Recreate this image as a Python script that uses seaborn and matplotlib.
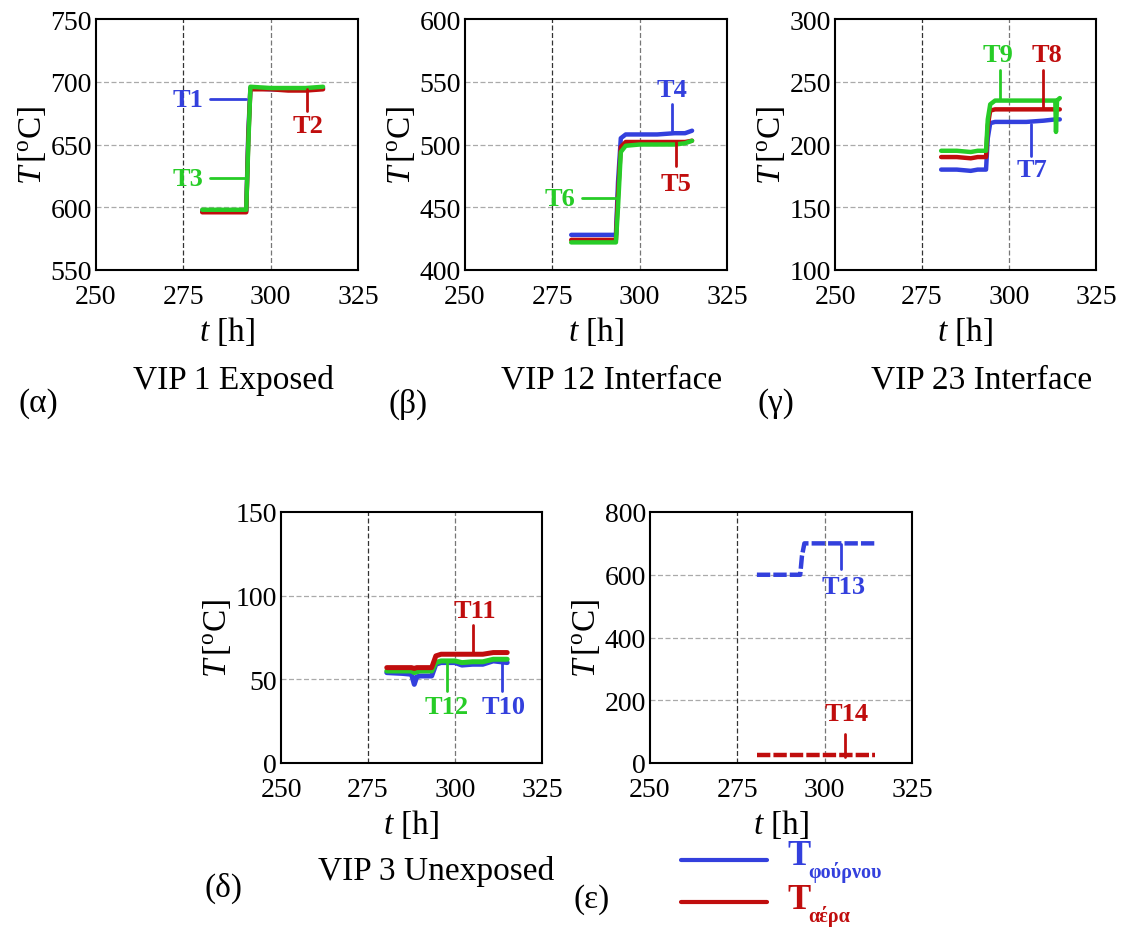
import numpy as np
import pandas as pd
import matplotlib
matplotlib.use("Agg")
import matplotlib.pyplot as plt
from matplotlib.ticker import MultipleLocator
import seaborn as sns

# ---------------- data ----------------
# (α) VIP 1 Exposed
t_a = [280.4, 285, 290, 293.0, 293.6, 294.2, 300, 305, 310, 315]
T1 = [597, 597, 597, 597, 660, 695, 694, 694, 694, 695]
T2 = [596, 596, 596, 596, 655, 694, 694, 693, 693, 694]
T3 = [598, 598, 598, 598, 650, 696, 695, 695, 695, 696]

# (β) VIP 12 Interface
t_b = [280.4, 285, 290, 293.2, 293.8, 294.6, 296, 300, 305, 310, 313, 315]
T4 = [428, 428, 428, 428, 470, 505, 508, 508, 508, 509, 509, 511]
T5 = [424, 424, 424, 424, 460, 498, 502, 502, 502, 502, 502, 503]
T6 = [422, 422, 422, 422, 450, 494, 499, 500, 500, 500, 501, 503]

# (γ) VIP 23 Interface
t_g = [280.5, 285, 289, 291, 293.4, 293.9, 294.6, 296, 300, 305, 310, 313.3, 313.5, 313.8, 314.6]
T7 = [180, 180, 179, 180, 180, 205, 217, 218, 218, 218, 219, 220, 220, 220, 220]
T8 = [190, 190, 189, 190, 190, 215, 227, 228, 228, 228, 228, 228, 228, 228, 228]
T9 = [195, 195, 194, 195, 195, 220, 232, 235, 235, 235, 235, 235, 210, 235, 237]

# (δ) VIP 3 Unexposed
t_d = [280.4, 285, 287.5, 288.3, 289.0, 290, 293.3, 294.5, 296, 300, 302, 305, 308, 311, 315]
T10 = [54, 53.5, 53, 47, 51.5, 52, 52, 59, 60, 60, 58.5, 59, 59, 61, 60]
T11 = [57, 57, 57, 56.5, 57, 57, 57, 64, 65, 65, 65, 65, 65, 66, 66]
T12 = [55, 55, 55, 54, 54.5, 55, 55, 60, 61, 61, 60, 60.5, 60.5, 62, 62]

# (ε) furnace / air
t_e = [280.6, 285, 290, 293.0, 293.5, 294.2, 300, 305, 310, 314.5]
T13 = [600, 600, 600, 600, 660, 700, 700, 700, 700, 700]
T14 = [25, 25, 25, 25, 25, 25, 25, 25, 25, 25]

BLUE = "#3340dd"
RED = "#c00d0d"
GREEN = "#27cc27"

# ---------------- style ----------------
sns.set_theme(style="white")
plt.rcParams["font.family"] = ["Liberation Serif", "DejaVu Serif"]
plt.rcParams["mathtext.fontset"] = "custom"
plt.rcParams["mathtext.rm"] = "Liberation Serif"
plt.rcParams["mathtext.it"] = "Liberation Serif:italic"
plt.rcParams["mathtext.bf"] = "Liberation Serif:bold"
for k in ["text.color", "axes.labelcolor", "xtick.color", "ytick.color"]:
    plt.rcParams[k] = "black"

W, H = 1124, 929
fig = plt.figure(figsize=(W / 100, H / 100), dpi=100)
fig.patch.set_facecolor("white")


def make_ax(left_px, top_px, right_px, bottom_px):
    return fig.add_axes([left_px / W, 1 - bottom_px / H,
                         (right_px - left_px) / W, (bottom_px - top_px) / H])


def style_ax(ax, ylim, ymajor, yminor):
    ax.set_xlim(250, 325)
    ax.set_ylim(*ylim)
    ax.xaxis.set_major_locator(MultipleLocator(25))
    ax.xaxis.set_minor_locator(MultipleLocator(5))
    ax.yaxis.set_major_locator(MultipleLocator(ymajor))
    ax.yaxis.set_minor_locator(MultipleLocator(yminor))
    ax.tick_params(which="major", direction="in", length=8, width=1.2,
                   labelsize=20, top=False, right=False, colors="black")
    ax.tick_params(axis="x", which="major", pad=10)
    ax.tick_params(axis="y", which="major", pad=3)
    ax.tick_params(which="minor", direction="in", length=4, width=1.0,
                   top=False, right=False)
    for s in ax.spines.values():
        s.set_color("black")
        s.set_linewidth(1.5)
    # grid
    for y in np.arange(ylim[0] + ymajor, ylim[1], ymajor):
        ax.axhline(y, color="#aaaaaa", ls=(0, (4, 2)), lw=0.9, zorder=0)
    ax.axvline(275, color="#333333", ls=(0, (4, 2)), lw=0.9, zorder=0)
    ax.axvline(300, color="#777777", ls=(0, (4, 2)), lw=0.9, zorder=0)
    ax.set_xlabel(r"$t$ [h]", fontsize=24, labelpad=4)
    ax.set_ylabel(r"$T\,[^{\rm o}$C]", fontsize=24, labelpad=2)


def series(ax, t, y, color, lw=3.2, ls="-"):
    df = pd.DataFrame({"t": t, "T": y})
    sns.lineplot(data=df, x="t", y="T", ax=ax, color=color, lw=lw,
                 estimator=None, sort=False, linestyle=ls)


def label(ax, txt, x, y, color):
    ax.text(x, y, txt, color=color, fontsize=19, fontweight="bold",
            ha="center", va="center")


def leader(ax, xs, ys, color):
    ax.plot(xs, ys, color=color, lw=2.0)


# (α)
ax = make_ax(96, 20, 358, 271)
style_ax(ax, (550, 750), 50, 10)
series(ax, t_a, T1, BLUE)
series(ax, t_a, T2, RED)
series(ax, t_a, T3, GREEN)
label(ax, "T1", 276.4, 686, BLUE)
leader(ax, [282.7, 292.8], [686, 686], BLUE)
label(ax, "T3", 276.4, 623, GREEN)
leader(ax, [282.7, 292.8], [623, 623], GREEN)
label(ax, "T2", 310.8, 665, RED)
leader(ax, [310.5, 310.5], [694, 677], RED)

# (β)
ax = make_ax(465, 20, 727, 271)
style_ax(ax, (400, 600), 50, 10)
series(ax, t_b, T4, BLUE)
series(ax, t_b, T5, RED)
series(ax, t_b, T6, GREEN)
label(ax, "T4", 309.3, 544, BLUE)
leader(ax, [309.3, 309.3], [532, 510], BLUE)
label(ax, "T5", 310.5, 469, RED)
leader(ax, [310.5, 310.5], [503, 483], RED)
label(ax, "T6", 277.2, 457, GREEN)
leader(ax, [283.5, 293.3], [457, 457], GREEN)

# (γ)
ax = make_ax(835, 20, 1096, 271)
style_ax(ax, (100, 300), 50, 10)
series(ax, t_g, T7, BLUE)
series(ax, t_g, T8, RED)
series(ax, t_g, T9, GREEN)
label(ax, "T9", 296.7, 272, GREEN)
leader(ax, [297.3, 297.3], [259, 236], GREEN)
label(ax, "T8", 311.0, 272, RED)
leader(ax, [309.9, 309.9], [259, 229], RED)
label(ax, "T7", 306.7, 180, BLUE)
leader(ax, [306.4, 306.4], [216, 191], BLUE)

# (δ)
ax = make_ax(281, 513, 542, 764)
style_ax(ax, (0, 150), 50, 10)
series(ax, t_d, T10, BLUE, lw=3.6)
series(ax, t_d, T12, GREEN, lw=3.6)
series(ax, t_d, T11, RED, lw=3.6)
label(ax, "T11", 305.7, 91, RED)
leader(ax, [305.2, 305.2], [82.5, 65.5], RED)
label(ax, "T12", 297.7, 33.5, GREEN)
leader(ax, [297.7, 297.7], [60, 43], GREEN)
label(ax, "T10", 314.0, 33.5, BLUE)
leader(ax, [313.5, 313.5], [60, 43], BLUE)

# (ε)
ax = make_ax(650, 513, 912, 764)
style_ax(ax, (0, 800), 200, 40)
series(ax, t_e, T13, BLUE, lw=3.2, ls=(0, (3, 0.7)))
series(ax, t_e, T14, RED, lw=3.2, ls=(0, (3, 0.7)))
label(ax, "T13", 305.3, 564, BLUE)
leader(ax, [304.7, 304.7], [698, 618], BLUE)
label(ax, "T14", 306.2, 159, RED)
leader(ax, [305.8, 305.8], [92, 19], RED)

# panel titles and letters
def ftext(x, y, s, **kw):
    fig.text(x / W, 1 - y / H, s, **kw)

ftext(233, 380, "VIP 1 Exposed", fontsize=24, ha="center", va="center")
ftext(612, 380, "VIP 12 Interface", fontsize=24, ha="center", va="center")
ftext(982, 380, "VIP 23 Interface", fontsize=24, ha="center", va="center")
ftext(436, 872, "VIP 3 Unexposed", fontsize=24, ha="center", va="center")
ftext(38, 404, "(α)", fontsize=24, ha="center", va="center")
ftext(408, 404, "(β)", fontsize=24, ha="center", va="center")
ftext(776, 404, "(γ)", fontsize=24, ha="center", va="center")
ftext(223, 888, "(δ)", fontsize=24, ha="center", va="center")
ftext(592, 900, "(ε)", fontsize=24, ha="center", va="center")

# legend (ε)
fig.add_artist(plt.Line2D([681 / W, 767 / W], [1 - 861 / H, 1 - 861 / H],
                          color=BLUE, lw=3.0, transform=fig.transFigure))
fig.add_artist(plt.Line2D([681 / W, 767 / W], [1 - 903 / H, 1 - 903 / H],
                          color=RED, lw=3.0, transform=fig.transFigure))
ftext(787, 857, "T", fontsize=25, fontweight="bold", color=BLUE, ha="left", va="center")
ftext(808, 873, "φούρνου", fontsize=14.5, fontweight="bold", color=BLUE, ha="left", va="center")
ftext(787, 901, "T", fontsize=25, fontweight="bold", color=RED, ha="left", va="center")
ftext(808, 917, "αέρα", fontsize=14.5, fontweight="bold", color=RED, ha="left", va="center")

fig.savefig("out.png", dpi=100, facecolor="white")
